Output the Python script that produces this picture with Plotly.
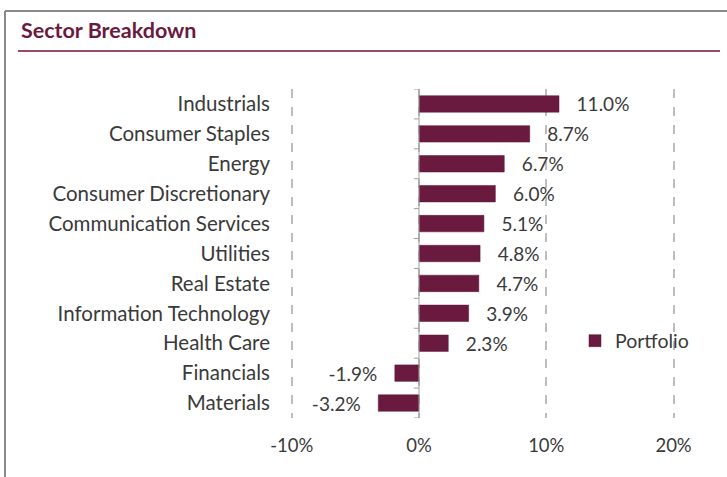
import plotly.graph_objects as go

sectors = ["Industrials", "Consumer Staples", "Energy", "Consumer Discretionary",
           "Communication Services", "Utilities", "Real Estate", "Information Technology",
           "Health Care", "Financials", "Materials"]
values = [11.0, 8.7, 6.7, 6.0, 5.1, 4.8, 4.7, 3.9, 2.3, -1.9, -3.2]
tick_vals = [-10, 0, 10, 20]
tick_text = ["-10%", "0%", "10%", "20%"]

PAD = "\u00a0\u00a0\u00a0"
labels = [(PAD + f"{v:.1f}%") if v >= 0 else (f"{v:.1f}%" + PAD) for v in values]

W, H = 727, 477
L, R, T, B = 279, 28, 89, 59
pw, ph = W - L - R, H - T - B

def px(x):
    return (x - L) / pw

def py(y):
    return 1 - (y - T) / ph

MAROON = "#6B1A3F"
FONT = "Lato"
TXT = "#3a3a3a"

fig = go.Figure()
fig.add_trace(go.Bar(
    x=values, y=sectors, orientation="h", name="Portfolio",
    marker=dict(color=MAROON, line=dict(color="#5a1434", width=0.5)),
    width=0.55,
    text=labels, textposition="outside", cliponaxis=False, constraintext="none",
    textfont=dict(family=FONT, size=19, color=TXT),
    showlegend=True,
))

fig.update_layout(
    width=W, height=H,
    margin=dict(l=L, r=R, t=T, b=B),
    paper_bgcolor="white", plot_bgcolor="white",
    font=dict(family=FONT, size=18, color=TXT),
    xaxis=dict(range=[-11, 22], tickvals=tick_vals, ticktext=tick_text,
               showgrid=True, gridcolor="#bdbdbd", griddash="dash", gridwidth=1.5,
               zeroline=False, showline=False, ticks="", ticklabelstandoff=14,
               tickfont=dict(family=FONT, size=18.5, color=TXT)),
    yaxis=dict(categoryorder="array", categoryarray=sectors[::-1],
               range=[-0.5, len(sectors) - 0.5],
               showgrid=False, zeroline=False, showline=False, ticks="",
               ticklabelstandoff=8,
               tickfont=dict(family=FONT, size=20.5, color=TXT)),
    legend=dict(x=px(575), y=py(341), xanchor="left", yanchor="middle",
                bgcolor="rgba(0,0,0,0)", itemwidth=30,
                font=dict(family=FONT, size=19.5, color=TXT)),
    showlegend=True,
)

# solid zero axis line with small category ticks
fig.add_shape(type="line", xref="x", yref="paper", x0=0, x1=0, y0=0, y1=1,
              line=dict(color="#a0a0a0", width=1))
for i in range(len(sectors) + 1):
    fig.add_shape(type="line", xref="x", yref="y", x0=-0.4, x1=0,
                  y0=i - 0.5, y1=i - 0.5, line=dict(color="#a0a0a0", width=1))

# frame
fig.add_shape(type="line", xref="paper", yref="paper", x0=px(5), x1=px(5),
              y0=py(11), y1=py(480), line=dict(color="#8a8a8a", width=2))
fig.add_shape(type="line", xref="paper", yref="paper", x0=px(5), x1=px(730),
              y0=py(11), y1=py(11), line=dict(color="#8a8a8a", width=2))
# title underline
fig.add_shape(type="line", xref="paper", yref="paper", x0=px(18), x1=px(720),
              y0=py(51), y1=py(51), line=dict(color="#9b4a6a", width=2))

fig.add_annotation(text="<b>Sector Breakdown</b>", xref="paper", yref="paper",
                   x=px(19), y=py(30), xanchor="left", yanchor="middle",
                   showarrow=False,
                   font=dict(family=FONT, size=21.5, color=MAROON))

fig.write_html("out.html", config={"displayModeBar": False},
               post_script="document.body.style.margin='0px';document.body.style.overflow='hidden';")
